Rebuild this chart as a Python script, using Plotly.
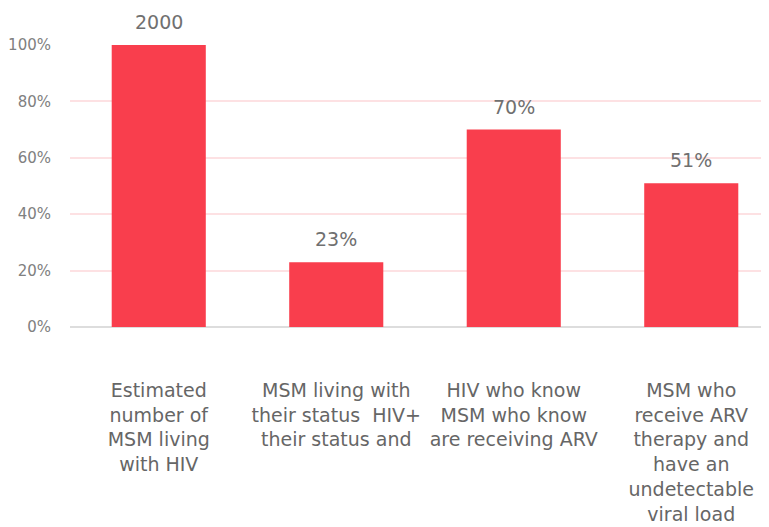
import plotly.graph_objects as go

categories = [
    "Estimated<br>number of<br>MSM living<br>with HIV",
    "MSM living with<br>their status  HIV+<br>their status and",
    "HIV who know<br>MSM who know<br>are receiving ARV",
    "MSM who<br>receive ARV<br>therapy and<br>have an<br>undetectable<br>viral load",
]
values = [100, 23, 70, 51]
value_labels = ["2000", "23%", "70%", "51%"]
y_ticks = [0, 20, 40, 60, 80, 100]
y_tick_labels = ["0%", "20%", "40%", "60%", "80%", "100%"]

font_name = "DejaVu Sans"

fig = go.Figure()
fig.add_trace(go.Bar(x=categories, y=values, width=0.53,
                     marker=dict(color="#F93E4D", line=dict(width=0)),
                     hoverinfo="skip"))

# value labels sit a little above each bar
for cat, val, lab in zip(categories, values, value_labels):
    fig.add_annotation(x=cat, y=val, text=lab, showarrow=False,
                       yanchor="bottom", yshift=10,
                       font=dict(family=font_name, size=19, color="#707070"))

# page body adds an 8px offset, so margins are trimmed by that much
fig.update_layout(
    width=769, height=527,
    margin=dict(l=62, r=8, t=37, b=208),
    plot_bgcolor="white", paper_bgcolor="white",
    showlegend=False,
    font=dict(family=font_name, color="#666666"),
    xaxis=dict(range=[-0.5, 3.438], showgrid=False, showline=False,
               automargin=False,
               ticks="", tickangle=0, ticklabelstandoff=50,
               tickfont=dict(family=font_name, size=19, color="#666666")),
    yaxis=dict(range=[0, 100], tickvals=y_ticks, ticktext=y_tick_labels,
               automargin=False,
               showgrid=True, gridcolor="#FDE1E3", gridwidth=2,
               zeroline=True, zerolinecolor="#DDDDDD", zerolinewidth=2,
               showline=False, ticks="", ticklabelstandoff=18,
               tickfont=dict(family=font_name, size=15, color="#808080")),
)

fig.write_html("out.html")
